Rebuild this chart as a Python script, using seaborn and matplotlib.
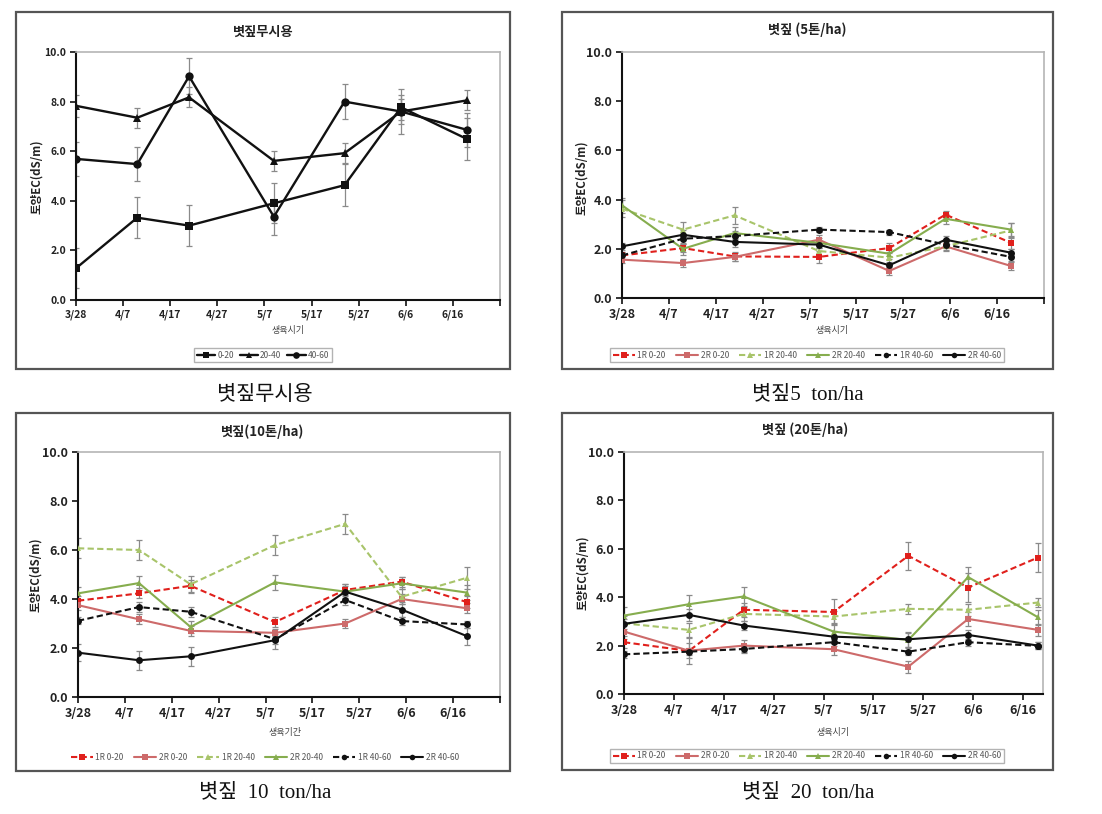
import matplotlib
matplotlib.use("Agg")
import matplotlib.pyplot as plt
import matplotlib.dates as mdates
from matplotlib.patches import Rectangle
import numpy as np
import pandas as pd
import seaborn as sns

# ---------------- data ----------------
sample_dates = ["2010-03-28", "2010-04-10", "2010-04-21", "2010-05-09",
                "2010-05-24", "2010-06-05", "2010-06-19"]
tick_dates = ["2010-03-28", "2010-04-07", "2010-04-17", "2010-04-27", "2010-05-07",
              "2010-05-17", "2010-05-27", "2010-06-06", "2010-06-16", "2010-06-26"]
tick_labels = ["3/28", "4/7", "4/17", "4/27", "5/7", "5/17", "5/27", "6/6", "6/16", ""]

# Panel 1: 볏짚무시용
p1_names = ["0-20", "20-40", "40-60"]
p1_0_20 = [1.28, 3.32, 3.00, 3.90, 4.63, 7.77, 6.49]
p1_20_40 = [7.83, 7.35, 8.17, 5.61, 5.92, 7.60, 8.05]
p1_40_60 = [5.69, 5.48, 9.02, 3.36, 8.00, 7.60, 6.86]
p1_0_20_err = [0.80, 0.83, 0.83, 0.80, 0.84, 0.50, 0.85]
p1_20_40_err = [0.45, 0.40, 0.40, 0.40, 0.40, 0.50, 0.40]
p1_40_60_err = [0.70, 0.70, 0.73, 0.73, 0.72, 0.90, 0.70]

series_names = ["1R 0-20", "2R 0-20", "1R 20-40", "2R 20-40", "1R 40-60", "2R 40-60"]

# Panel 2: 볏짚 (5톤/ha)
p2_1r_0_20 = [1.73, 2.03, 1.69, 1.67, 2.03, 3.39, 2.24]
p2_2r_0_20 = [1.56, 1.42, 1.67, 2.37, 1.10, 2.10, 1.30]
p2_1r_20_40 = [3.63, 2.78, 3.36, 1.91, 1.64, 2.10, 2.75]
p2_2r_20_40 = [3.77, 2.00, 2.64, 2.24, 1.80, 3.22, 2.78]
p2_1r_40_60 = [1.73, 2.41, 2.52, 2.78, 2.68, 2.17, 1.67]
p2_2r_40_60 = [2.10, 2.57, 2.28, 2.17, 1.33, 2.37, 1.84]
p2_1r_0_20_err = [0.15, 0.15, 0.20, 0.25, 0.20, 0.15, 0.25]
p2_2r_0_20_err = [0.15, 0.15, 0.15, 0.20, 0.15, 0.15, 0.15]
p2_1r_20_40_err = [0.35, 0.30, 0.35, 0.20, 0.25, 0.20, 0.30]
p2_2r_20_40_err = [0.30, 0.25, 0.25, 0.20, 0.20, 0.20, 0.25]
p2_1r_40_60_err = [0.15, 0.20, 0.20, 0.10, 0.10, 0.15, 0.15]
p2_2r_40_60_err = [0.15, 0.20, 0.20, 0.15, 0.15, 0.15, 0.15]

# Panel 3: 볏짚(10톤/ha)
p3_1r_0_20 = [3.93, 4.23, 4.54, 3.06, 4.37, 4.71, 3.87]
p3_2r_0_20 = [3.75, 3.17, 2.70, 2.62, 3.00, 4.00, 3.62]
p3_1r_20_40 = [6.07, 6.00, 4.60, 6.20, 7.07, 4.09, 4.87]
p3_2r_20_40 = [4.23, 4.65, 2.86, 4.68, 4.30, 4.64, 4.26]
p3_1r_40_60 = [3.11, 3.67, 3.48, 2.36, 3.96, 3.10, 2.96]
p3_2r_40_60 = [1.81, 1.50, 1.66, 2.32, 4.30, 3.57, 2.48]
p3_1r_0_20_err = [0.20, 0.20, 0.25, 0.20, 0.25, 0.20, 0.25]
p3_2r_0_20_err = [0.20, 0.20, 0.20, 0.15, 0.20, 0.20, 0.20]
p3_1r_20_40_err = [0.40, 0.40, 0.35, 0.40, 0.40, 0.30, 0.45]
p3_2r_20_40_err = [0.25, 0.30, 0.25, 0.30, 0.25, 0.25, 0.30]
p3_1r_40_60_err = [0.15, 0.20, 0.20, 0.20, 0.20, 0.15, 0.15]
p3_2r_40_60_err = [0.35, 0.38, 0.38, 0.35, 0.30, 0.30, 0.35]

# Panel 4: 볏짚 (20톤/ha)
p4_1r_0_20 = [2.14, 1.78, 3.48, 3.39, 5.71, 4.40, 5.64]
p4_2r_0_20 = [2.58, 1.79, 2.00, 1.85, 1.13, 3.10, 2.65]
p4_1r_20_40 = [2.92, 2.65, 3.31, 3.20, 3.52, 3.48, 3.78]
p4_2r_20_40 = [3.24, 3.71, 4.03, 2.58, 2.23, 4.83, 3.17]
p4_1r_40_60 = [1.64, 1.75, 1.86, 2.14, 1.75, 2.14, 1.99]
p4_2r_40_60 = [2.90, 3.27, 2.83, 2.37, 2.26, 2.44, 2.00]
p4_1r_0_20_err = [0.25, 0.55, 0.30, 0.55, 0.58, 0.60, 0.58]
p4_2r_0_20_err = [0.30, 0.30, 0.25, 0.25, 0.25, 0.30, 0.25]
p4_1r_20_40_err = [0.30, 0.30, 0.30, 0.25, 0.20, 0.25, 0.20]
p4_2r_20_40_err = [0.35, 0.40, 0.40, 0.30, 0.30, 0.40, 0.30]
p4_1r_40_60_err = [0.15, 0.15, 0.15, 0.15, 0.15, 0.15, 0.15]
p4_2r_40_60_err = [0.20, 0.25, 0.20, 0.25, 0.30, 0.20, 0.15]

titles = ["볏짚무시용", "볏짚 (5톤/ha)", "볏짚(10톤/ha)", "볏짚 (20톤/ha)"]
xlabels = ["생육시기", "생육시기", "생육기간", "생육시기"]
captions = ["볏짚무시용", "볏짚5  ton/ha", "볏짚  10  ton/ha", "볏짚  20  ton/ha"]
ylabel = "토양EC(dS/m)"

# ---------------- style ----------------
sns.set_theme(style="ticks")
plt.rcParams['font.family'] = ['Noto Sans CJK KR', 'DejaVu Sans']
plt.rcParams['axes.unicode_minus'] = False

W, H = 1102, 814
fig = plt.figure(figsize=(W / 100, H / 100), dpi=100)
fig.patch.set_facecolor("white")

def fx(px):
    return px / W

def fy(py):
    return 1 - py / H

# outer boxes (pixel coords): x0, y0, x1, y1
boxes = [(16, 12, 510, 369), (562, 12, 1053, 369), (16, 413, 510, 771), (562, 413, 1053, 770)]
for (x0, y0, x1, y1) in boxes:
    fig.patches.append(Rectangle((fx(x0), fy(y1)), fx(x1 - x0), (y1 - y0) / H,
                                 transform=fig.transFigure, fill=False,
                                 edgecolor="#555555", lw=1.6, zorder=0))

# axes positions (pixel coords): left, top, right, bottom
axes_px = [(76, 52, 500, 300), (622, 52, 1044, 298), (78, 452, 500, 697), (624, 452, 1043, 694)]

colors6 = {"1R 0-20": "#E0201C", "2R 0-20": "#CD6A6A", "1R 20-40": "#A8C46A",
           "2R 20-40": "#86AD4E", "1R 40-60": "#111111", "2R 40-60": "#111111"}
markers6 = {"1R 0-20": "s", "2R 0-20": "s", "1R 20-40": "^", "2R 20-40": "^",
            "1R 40-60": "o", "2R 40-60": "o"}
dashes6 = {"1R 0-20": (3, 1.6), "2R 0-20": "", "1R 20-40": (3, 1.6), "2R 20-40": "",
           "1R 40-60": (3, 1.6), "2R 40-60": ""}

panels = [
    (p1_names, [p1_0_20, p1_20_40, p1_40_60], [p1_0_20_err, p1_20_40_err, p1_40_60_err]),
    (series_names, [p2_1r_0_20, p2_2r_0_20, p2_1r_20_40, p2_2r_20_40, p2_1r_40_60, p2_2r_40_60],
     [p2_1r_0_20_err, p2_2r_0_20_err, p2_1r_20_40_err, p2_2r_20_40_err, p2_1r_40_60_err, p2_2r_40_60_err]),
    (series_names, [p3_1r_0_20, p3_2r_0_20, p3_1r_20_40, p3_2r_20_40, p3_1r_40_60, p3_2r_40_60],
     [p3_1r_0_20_err, p3_2r_0_20_err, p3_1r_20_40_err, p3_2r_20_40_err, p3_1r_40_60_err, p3_2r_40_60_err]),
    (series_names, [p4_1r_0_20, p4_2r_0_20, p4_1r_20_40, p4_2r_20_40, p4_1r_40_60, p4_2r_40_60],
     [p4_1r_0_20_err, p4_2r_0_20_err, p4_1r_20_40_err, p4_2r_20_40_err, p4_1r_40_60_err, p4_2r_40_60_err]),
]

xd = pd.to_datetime(sample_dates)
ticks = pd.to_datetime(tick_dates)
xlims_end = ["2010-06-26", "2010-06-26", "2010-06-26", "2010-06-20"]

title_pos = [(263, 32), (807, 30), (263, 432), (805, 430)]
xlabel_pos = [(288, 331), (832, 331), (285, 732), (833, 732)]
ylabel_pos = [(37, 177), (582, 178), (36, 575), (583, 573)]
legend_pos = [(263, 355), (807, 355), (265, 757), (807, 756)]
caption_pos = [(265, 395), (808, 395), (265, 793), (808, 793)]

for i, (names, vals, errs) in enumerate(panels):
    l, t, r, b = axes_px[i]
    ax = fig.add_axes([fx(l), fy(b), fx(r - l), (b - t) / H])
    rows = []
    for n, v in zip(names, vals):
        for d, y in zip(xd, v):
            rows.append({"date": d, "EC": y, "series": n})
    df = pd.DataFrame(rows)

    if i == 0:
        pal = {n: "#111111" for n in names}
        mk = dict(zip(names, ["s", "^", "o"]))
        ds = {n: "" for n in names}
        lw, ms = 1.7, 6
    else:
        pal, mk, ds = colors6, markers6, dashes6
        lw, ms = 1.5, 5
    ecol = "#8a8a8a"

    for n, v, e in zip(names, vals, errs):
        ax.errorbar(xd, v, yerr=e, fmt="none", ecolor=ecol, elinewidth=0.9,
                    capsize=2, capthick=0.9, zorder=1)

    sns.lineplot(data=df, x="date", y="EC", hue="series", style="series",
                 palette=pal, markers=mk, dashes=ds, hue_order=names, style_order=names,
                 linewidth=lw, markersize=ms, markeredgewidth=0, ax=ax, legend=True, zorder=3)

    handles, labels = ax.get_legend_handles_labels()
    ax.get_legend().remove()
    lx, ly = legend_pos[i]
    if i == 0:
        lkw = dict(fontsize=6, handlelength=2.2, columnspacing=0.7, handletextpad=0.25, markerscale=0.8)
    else:
        lkw = dict(fontsize=6, handlelength=2.6, columnspacing=1.25, handletextpad=0.35, markerscale=0.8)
    leg = fig.legend(handles, labels, loc="center", bbox_to_anchor=(fx(lx), fy(ly)),
                     ncol=len(names), frameon=(i != 2), borderpad=0.3,
                     fancybox=False, edgecolor="#a0a0a0", labelcolor="#555555", **lkw)
    leg.get_frame().set_linewidth(1.0)

    ax.set_ylim(0, 10)
    ax.set_yticks(np.arange(0, 10.01, 2))
    ax.set_yticklabels([f"{v:.1f}" for v in np.arange(0, 10.01, 2)])
    ax.set_xlim(pd.Timestamp("2010-03-28"), pd.Timestamp(xlims_end[i]))
    vis = [k for k, tk in enumerate(ticks) if tk <= pd.Timestamp(xlims_end[i])]
    ax.set_xticks([ticks[k] for k in vis])
    ax.set_xticklabels([tick_labels[k] for k in vis])
    ax.set_xlabel("")
    ax.set_ylabel("")

    fs = 7.5 if i == 0 else 9
    ax.tick_params(axis="both", direction="out", length=4, width=1.2, colors="#111111",
                   labelsize=fs, pad=3)
    for lab in ax.get_xticklabels() + ax.get_yticklabels():
        lab.set_fontweight("bold")
        lab.set_color("#222222")
    for s in ["left", "bottom"]:
        ax.spines[s].set_color("#111111")
        ax.spines[s].set_linewidth(1.5)
    for s in ["top", "right"]:
        ax.spines[s].set_color("#b5b5b5")
        ax.spines[s].set_linewidth(1.2)
    ax.set_facecolor("white")
    ax.grid(False)

    tx, ty = title_pos[i]
    fig.text(fx(tx), fy(ty), titles[i], ha="center", va="center", fontsize=9.5,
             fontweight="bold", color="#222222")
    xx, xy = xlabel_pos[i]
    fig.text(fx(xx), fy(xy), xlabels[i], ha="center", va="center", fontsize=6.5, color="#444444")
    yx, yy = ylabel_pos[i]
    fig.text(fx(yx), fy(yy), ylabel, ha="center", va="center", rotation=90, fontsize=8.3,
             fontweight="bold", color="#222222")
    cx, cy = caption_pos[i]
    fig.text(fx(cx), fy(cy), captions[i], ha="center", va="center", fontsize=15,
             family=["Liberation Serif", "Noto Sans CJK KR"], color="#111111")

fig.savefig("out.png", dpi=100, facecolor="white")
